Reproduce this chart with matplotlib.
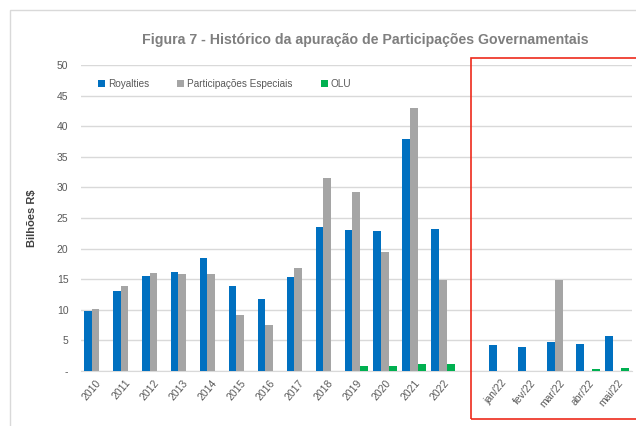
import matplotlib.pyplot as plt
from matplotlib.patches import Rectangle
import numpy as np

plt.rcParams['font.family'] = ['Liberation Sans', 'DejaVu Sans']

# Dados (bilhões R$)
anos = ['2010', '2011', '2012', '2013', '2014', '2015', '2016', '2017', '2018',
        '2019', '2020', '2021', '2022']
meses = ['jan/22', 'fev/22', 'mar/22', 'abr/22', 'mai/22']

royalties_anos = [9.8, 13.0, 15.5, 16.2, 18.4, 13.9, 11.8, 15.3, 23.5, 23.0, 22.8, 37.9, 23.2]
pe_anos = [10.1, 13.9, 16.0, 15.8, 15.8, 9.1, 7.5, 16.9, 31.6, 29.2, 19.4, 43.0, 14.8]
olu_anos = [0, 0, 0, 0, 0, 0, 0, 0, 0, 0.8, 0.8, 1.15, 1.15]

royalties_meses = [4.2, 3.9, 4.8, 4.4, 5.7]
pe_meses = [0, 0, 14.85, 0, 0]
olu_meses = [0.08, 0.08, 0.08, 0.3, 0.5]

# uma categoria vazia entre anos e meses
labels = anos + [''] + meses
royalties = royalties_anos + [0] + royalties_meses
pe = pe_anos + [0] + pe_meses
olu = olu_anos + [0] + olu_meses

azul = '#0070C0'
cinza = '#A5A5A5'
verde = '#00B050'
texto = '#595959'

fig = plt.figure(figsize=(6.36, 4.26), dpi=100)
ax = fig.add_axes([81 / 636, 55 / 426, 550.5 / 636, 306 / 426])

x = np.arange(len(labels))
w = 0.27
ax.bar(x - w, royalties, w, color=azul, label='Royalties', zorder=3)
ax.bar(x, pe, w, color=cinza, label='Participações Especiais', zorder=3)
ax.bar(x + w, olu, w, color=verde, label='OLU', zorder=3)

ax.set_xlim(-0.5, len(labels) - 0.5)
ax.set_ylim(0, 50)
ax.set_yticks(np.arange(0, 51, 5))
ax.set_yticklabels(['-'] + [str(v) for v in range(5, 51, 5)])
ax.set_xticks(x)
ax.set_xticklabels(labels, rotation=50, ha='right', rotation_mode='anchor')
ax.tick_params(axis='both', length=0, colors=texto, labelsize=7.5)
ax.tick_params(axis='y', pad=9)
ax.tick_params(axis='x', pad=5)
for s in ['top', 'right', 'left']:
    ax.spines[s].set_visible(False)
ax.spines['bottom'].set_color('#d9d9d9')
ax.grid(axis='y', color='#d9d9d9', linewidth=1, zorder=0)
ax.set_axisbelow(True)

ax.set_ylabel('Bilhões R$', fontsize=8, fontweight='bold', color='#404040', labelpad=14)

leg = ax.legend(loc='upper left', bbox_to_anchor=(0.015, 0.985), ncol=3, frameon=False,
                handlelength=0.7, handleheight=0.7, handletextpad=0.3,
                columnspacing=2.8, fontsize=7.2)
for t in leg.get_texts():
    t.set_color(texto)

fig.text(365 / 636, 1 - 40 / 426, 'Figura 7 - Histórico da apuração de Participações Governamentais',
         ha='center', va='center', fontsize=10.2, fontweight='bold', color='#7f7f7f')

# moldura do gráfico
fig.patches.append(Rectangle((10 / 636, -0.1), 1.2, 1 - 10 / 426 + 0.1,
                             transform=fig.transFigure, fill=False,
                             edgecolor='#d9d9d9', linewidth=1))
# destaque em vermelho
fig.patches.append(Rectangle((470.7 / 636, 7 / 426), 0.4, (419 - 58) / 426,
                             transform=fig.transFigure, fill=False,
                             edgecolor='#EE2A1B', linewidth=1.2))

plt.savefig('out.png', dpi=100)
